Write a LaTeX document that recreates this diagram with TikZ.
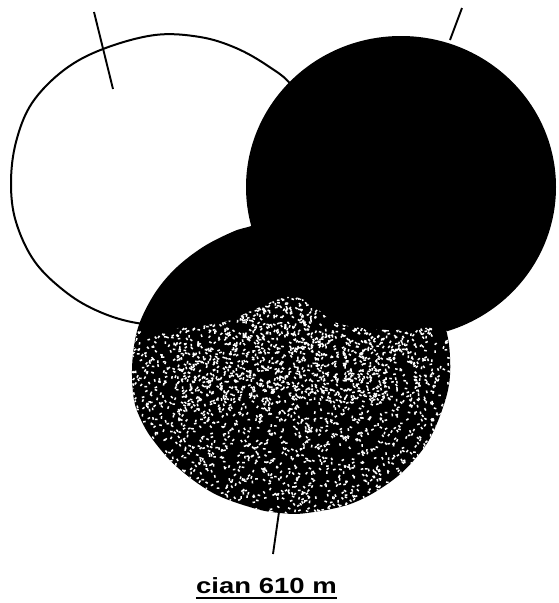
\documentclass[tikz,border=0pt]{standalone}
\usepackage{fontspec}
\newfontfamily\labfont{Liberation Sans}
\begin{document}
\begin{tikzpicture}[x=1pt,y=-1pt,
  outline/.style={line width=2pt,draw=black},
  tick/.style={line width=1.9pt,draw=black},
  speck/.style={draw=white,line width=1.5pt}]
\useasboundingbox (0,0) rectangle (559,603);
% white circle
\filldraw[fill=white,outline] plot[smooth cycle,tension=0.6] coordinates {
 (137,323) (100,312) (67,293) (35,262) (16,222) (11,183) (16,142) (32,103)
 (64,70) (103,49) (155,35) (200,37) (236,48) (268,66) (292,86) (312,125)
 (318,190) (300,260) (240,310) (180,325)};
\draw[tick] (94,12) -- (113,89);
% black circle
\fill[black] (401,187) ellipse [x radius=155, y radius=151];
% bottom circle
\fill[black] plot[smooth cycle,tension=0.6] coordinates {
 (248,227) (230,233) (203,247) (177,267) (157,290) (142,317) (135,340)
 (132,370) (134,400) (141,420) (153,440) (177,467) (213,493) (253,508)
 (280,513) (307,513) (353,503) (393,480) (420,453) (435,428) (448,390)
 (450,357) (445,325) (430,280) (380,235) (300,215)};
% stipple
\begin{scope}
\clip plot[smooth cycle,tension=0.6] coordinates {
 (248,227) (230,233) (203,247) (177,267) (157,290) (142,317) (135,340)
 (132,370) (134,400) (141,420) (153,440) (177,467) (213,493) (253,508)
 (280,513) (307,513) (353,503) (393,480) (420,453) (435,428) (448,390)
 (450,357) (445,325) (430,280) (380,235) (300,215)};
\clip plot[smooth,tension=0.6] coordinates {(100,333) (153,330) (220,323) (253,310)
 (287,297) (310,303) (337,323) (387,330) (437,327) (470,327)} -- (470,530) -- (100,530) -- cycle;
\pgfmathsetseed{7}
\foreach \i in {1,...,2300}{
  \pgfmathsetmacro\xx{130+322*rnd}
  \pgfmathsetmacro\yy{292+222*rnd}
  \pgfmathsetmacro\aa{360*rnd}
  \draw[speck] (\xx,\yy) -- ++(\aa:2.6);
}
\foreach \i in {1,...,700}{
  \pgfmathsetmacro\xx{180+240*rnd}
  \pgfmathsetmacro\yy{295+110*rnd}
  \pgfmathsetmacro\aa{360*rnd}
  \draw[speck] (\xx,\yy) -- ++(\aa:2.6);
}
\end{scope}
\draw[tick] (462,8) -- (450,40);
\draw[tick] (279,512) -- (273,554);
\node[inner sep=0pt,anchor=base,font={\labfont\bfseries\fontsize{22}{26}\selectfont}] (lab) at (266.5,593) {\scalebox{1.25}[1]{cian 610 m}};
\draw[line width=2pt] ([yshift=-5pt]lab.base west) -- ([yshift=-5pt]lab.base east);
\end{tikzpicture}
\end{document}
